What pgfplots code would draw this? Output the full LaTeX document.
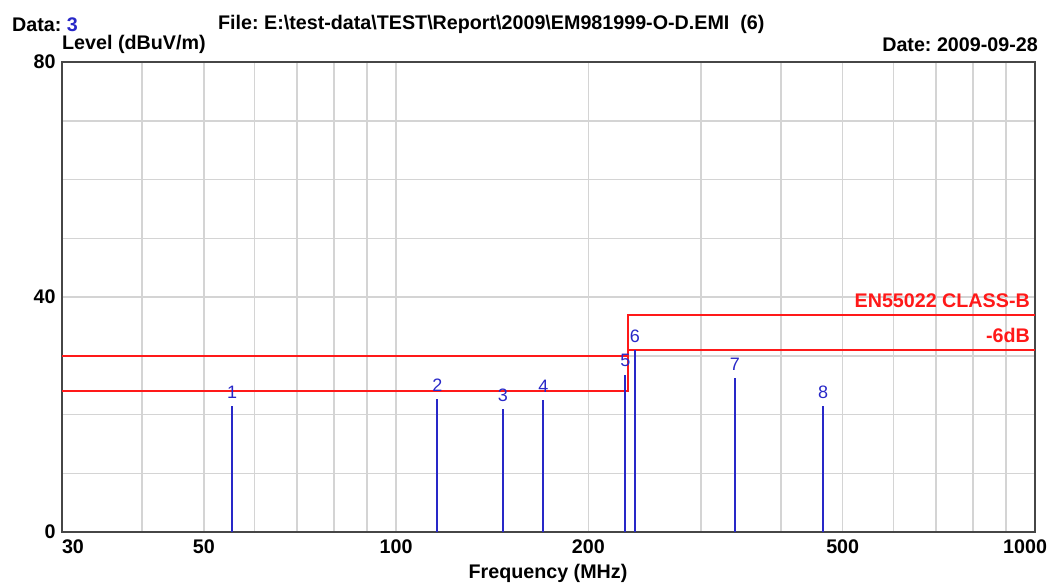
\documentclass[border=0pt]{standalone}
\usepackage{pgfplots}
\pgfplotsset{compat=1.18}
\usepackage{fontspec}
\setmainfont{Liberation Sans}
\definecolor{limred}{RGB}{255,25,25}
\definecolor{mkblue}{RGB}{40,40,200}
\definecolor{gridgray}{RGB}{212,212,212}
\definecolor{framegray}{RGB}{70,70,70}
\newcommand\bigb{\frenchspacing\bfseries\fontsize{19.7bp}{22bp}\selectfont}
\newcommand\mkfont{\fontsize{18bp}{20bp}\selectfont}
\begin{document}
\frenchspacing
\begin{tikzpicture}
\useasboundingbox (-62bp,-51bp) rectangle (992bp,532bp);
\begin{axis}[
  at={(0,0)}, anchor=south west,
  scale only axis, width=973bp, height=470bp,
  xmode=log, xmin=30, xmax=1000, ymin=0, ymax=80,
  xtick={30,50,100,200,500,1000},
  xticklabels={\makebox[0pt][l]{30},50,100,200,500,\makebox[0pt][r]{1000\hspace{-12bp}}},
  minor xtick={40,60,70,80,90,300,400,600,700,800,900},
  ytick={0,40,80}, yticklabels={0,40,80},
  minor ytick={10,20,30,50,60,70},
  grid=both,
  major grid style={gridgray, line width=1.5bp},
  minor grid style={gridgray, line width=1.5bp},
  major tick length=0pt, minor tick length=0pt,
  axis line style={framegray, line width=2bp},
  ticklabel style={font=\bigb, text=black},
  xticklabel style={yshift=-4bp},
  yticklabel style={xshift=-3bp},
]
\addplot[limred, line width=2bp] coordinates {(30,30) (230.5,30) (230.5,37) (1000,37)};
\addplot[limred, line width=2bp] coordinates {(30,24) (230.5,24) (230.5,31) (1000,31)};
\addplot[mkblue, line width=2bp, ycomb, mark=none,
  point meta=explicit symbolic, nodes near coords,
  nodes near coords style={font=\mkfont, text=mkblue, anchor=south, inner sep=0pt, yshift=7bp}]
  coordinates {
  (55.4,21.4) [1]
  (116,22.6) [2]
  (147,20.9) [3]
  (170,22.4) [4]
  (228.5,26.7) [5]
  (236.5,30.9) [6]
  (339,26.2) [7]
  (466,21.4) [8]
  };
\node[anchor=base east, inner sep=0pt, font=\bigb, text=limred, xshift=-5bp, yshift=7bp] at (axis cs:1000,37) {EN55022 CLASS-B};
\node[anchor=base east, inner sep=0pt, font=\bigb, text=limred, xshift=-5bp, yshift=7bp] at (axis cs:1000,31) {-6dB};
\end{axis}
\node[anchor=base west, inner sep=0pt, font=\bigb] at (-50bp,500bp) {Data: \textcolor{mkblue}{3}};
\node[anchor=base west, inner sep=0pt, font=\bigb] at (0bp,482bp) {Level (dBuV/m)};
\node[anchor=base west, inner sep=0pt, font=\bigb] at (156bp,502bp) {File: E:\textbackslash test-data\textbackslash TEST\textbackslash Report\textbackslash 2009\textbackslash EM981999-O-D.EMI\ \ (6)};
\node[anchor=base east, inner sep=0pt, font=\bigb] at (976bp,480bp) {Date: 2009-09-28};
\node[anchor=base, inner sep=0pt, font=\bigb] at (486bp,-46bp) {Frequency (MHz)};
\end{tikzpicture}
\end{document}
